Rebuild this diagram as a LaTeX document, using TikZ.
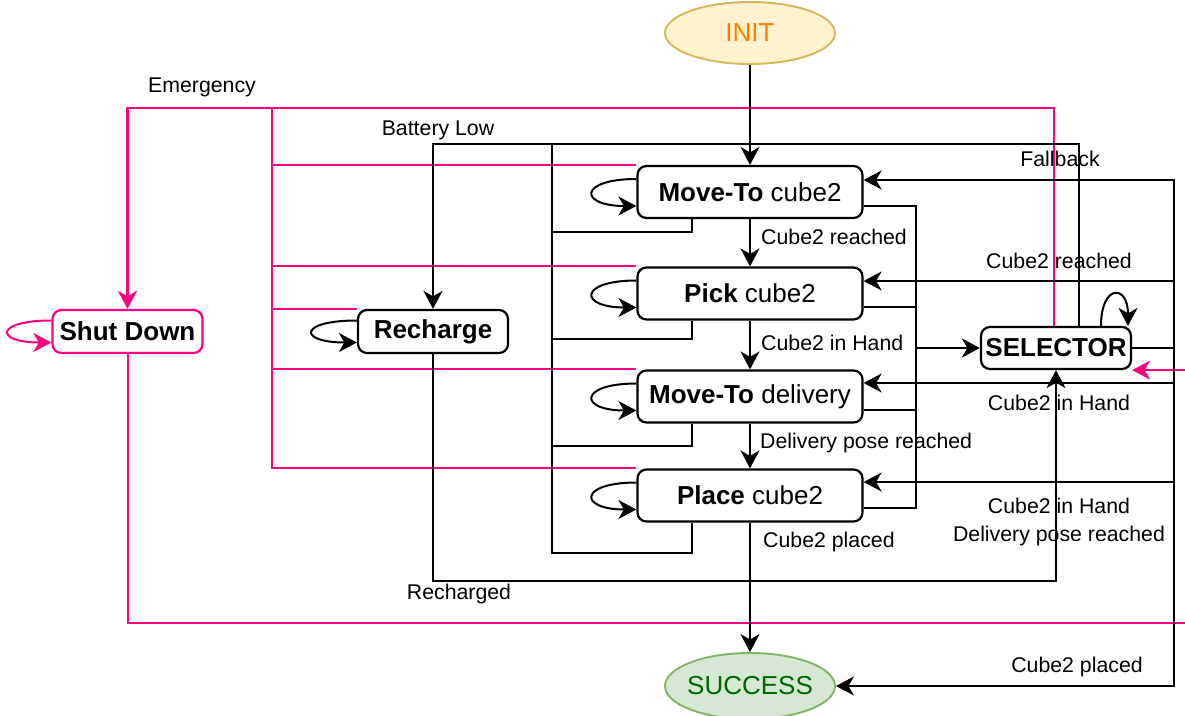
\documentclass[tikz,border=0pt]{standalone}
\usepackage{fontspec}
\setmainfont{Liberation Sans}
\usetikzlibrary{arrows.meta,shapes.geometric,calc}
\definecolor{emg}{HTML}{FF0080}
\definecolor{initfill}{HTML}{FFF2CC}
\definecolor{initline}{HTML}{D6B656}
\definecolor{inittext}{HTML}{FF8000}
\definecolor{succfill}{HTML}{D5E8D4}
\definecolor{succline}{HTML}{82B366}
\definecolor{succtext}{HTML}{006600}
\begin{document}
\begin{tikzpicture}[x=1pt,y=-1pt,
  lbl/.style={font=\fontsize{21.3}{28}\selectfont, inner sep=0pt},
  statebox/.style={draw, rounded corners=9pt, line width=2.2pt, minimum width=225pt, minimum height=52pt, inner sep=0pt, font=\fontsize{26}{30}\selectfont},
  smallbox/.style={statebox, minimum width=150pt, minimum height=43pt},
  term/.style={ellipse, line width=1.9pt, minimum width=170pt, inner xsep=-6pt, inner ysep=0pt, font=\fontsize{26}{30}\selectfont},
  ln/.style={line width=2pt},
  tk/.style={line width=2.8pt},
  arr/.style={-{Stealth[length=18pt,width=19pt,inset=5.5pt]}},
  pk/.style={draw=emg}
]
\useasboundingbox (0,0) rectangle (1185,715);

% nodes
\node[term, draw=initline, fill=initfill, text=inittext, minimum height=62pt] (init) at (750,33) {INIT};
\node[term, draw=succline, fill=succfill, text=succtext, minimum height=66pt] (succ) at (750,686) {SUCCESS};
\node[statebox] (mt1) at (750,192) {\bfseries Move-To\mdseries\ cube2};
\node[statebox] (pick) at (750,293.5) {\bfseries Pick\mdseries\ cube2};
\node[statebox] (mtd) at (750,396.5) {\bfseries Move-To\mdseries\ delivery};
\node[statebox] (place) at (750,495.5) {\bfseries Place\mdseries\ cube2};
\node[smallbox] (rech) at (433,331.5) {\bfseries Recharge};
\node[smallbox, draw=emg] (shut) at (127.5,331.5) {\bfseries Shut Down};
\node[smallbox, minimum height=42pt] (sel) at (1056,348) {\bfseries SELECTOR};

% helper coordinates
\coordinate (bat) at (552,144);
\coordinate (jn) at (916,348);
\coordinate (sj) at (1174,348);
\coordinate (eg) at (272,108);
\coordinate (pr) at (1190,623);

% pink emergency edges
\draw[pk,ln] (mt1.north west) -| (eg);
\draw[pk,ln] (pick.north west) -| (eg);
\draw[pk,ln] (rech.north west) -| (eg);
\draw[pk,ln] (mtd.north west) -| (eg);
\draw[pk,ln] (place.north west) -| (eg);
\draw[pk,ln] ([xshift=-2pt]sel.north) |- (eg);
\draw[pk,tk,arr,emg] (eg) -| (shut.north);
\draw[pk,ln,arr,emg] (shut.south) |- (pr) |- (sel.south east);
\draw[pk,ln,arr,emg] ([yshift=11pt]shut.west) .. controls +(-57,0) and +(-57,0) .. ([yshift=-11pt]shut.west);

% main chain
\draw[ln,arr] (init.south) -- (init.south |- mt1.north);
\draw[ln,arr] (mt1.south) -- (pick.north);
\draw[ln,arr] (pick.south) -- (mtd.north);
\draw[ln,arr] (mtd.south) -- (place.north);
\draw[ln,arr] (place.south) -- (succ.north);

% self loops
\draw[ln,arr] ([yshift=13pt]mt1.west) .. controls +(-58,0) and +(-58,0) .. ([yshift=-14pt]mt1.west);
\draw[ln,arr] ([yshift=13pt]pick.west) .. controls +(-58,0) and +(-58,0) .. ([yshift=-14pt]pick.west);
\draw[ln,arr] ([yshift=13pt]mtd.west) .. controls +(-58,0) and +(-58,0) .. ([yshift=-14pt]mtd.west);
\draw[ln,arr] ([yshift=13pt]place.west) .. controls +(-58,0) and +(-58,0) .. ([yshift=-14pt]place.west);
\draw[ln,arr] ([yshift=11pt]rech.west) .. controls +(-59,0) and +(-59,0) .. ([yshift=-11pt]rech.west);
\draw[ln,arr] ([xshift=45pt]sel.north) .. controls +(0,-42) and +(0,-42) .. ([xshift=72pt]sel.north);

% battery low
\draw[ln] ([xshift=56pt]mt1.south west) -- ++(0,13) -| (bat);
\draw[ln] ([xshift=56pt]pick.south west) -- ++(0,18) -| (bat);
\draw[ln] ([xshift=56pt]mtd.south west) -- ++(0,22) -| (bat);
\draw[ln] ([xshift=56pt]place.south west) -- ++(0,30) -| (bat);
\draw[ln] ([xshift=23pt]sel.north) |- (bat);
\draw[tk,arr] (bat) -| (rech.north);

% recharged
\draw[ln,arr] (rech.south) -- ++(0,227) -| (sel.south);

% states to selector
\draw[ln] ([yshift=-14pt]mt1.east) -| (jn);
\draw[ln] ([yshift=-13.5pt]pick.east) -| (jn);
\draw[ln] ([yshift=-13.5pt]mtd.east) -| (jn);
\draw[ln] ([yshift=-12.5pt]place.east) -| (jn);
\draw[tk,arr] (jn) -- (sel.west);

% selector to states
\draw[tk] (sel.east) -- (sj);
\draw[ln,arr] (sj) |- ([yshift=12pt]mt1.east);
\draw[ln,arr] (sj) |- ([yshift=12.5pt]pick.east);
\draw[ln,arr] (sj) |- ([yshift=13.5pt]mtd.east);
\draw[ln,arr] (sj) |- ([yshift=13.5pt]place.east);
\draw[ln,arr] (sj) |- (succ.east);

% labels
\node[lbl, anchor=base] (lemg) at (202,92) {Emergency};
\node[lbl, anchor=base] (lbat) at (438,135) {Battery Low};
\node[lbl, anchor=base] (lfb) at (1060,166) {Fallback};
\node[lbl, anchor=base] (lr1) at (1059,268) {Cube2 reached};
\node[lbl, anchor=base] (lh1) at (1059,410) {Cube2 in Hand};
\node[lbl, anchor=base] (lh2) at (1059,513) {Cube2 in Hand};
\node[lbl, anchor=base] (ld2) at (1059,541) {Delivery pose reached};
\node[lbl, anchor=base] (lp1) at (1077,672) {Cube2 placed};
\node[lbl, anchor=base] (lrc) at (459,599) {Recharged};
\node[lbl, anchor=base west] (la) at (761,244) {Cube2 reached};
\node[lbl, anchor=base west] (lb) at (761,350) {Cube2 in Hand};
\node[lbl, anchor=base west] (lc) at (760,448) {Delivery pose reached};
\node[lbl, anchor=base west] (ld) at (763,547) {Cube2 placed};
\end{tikzpicture}
\end{document}
